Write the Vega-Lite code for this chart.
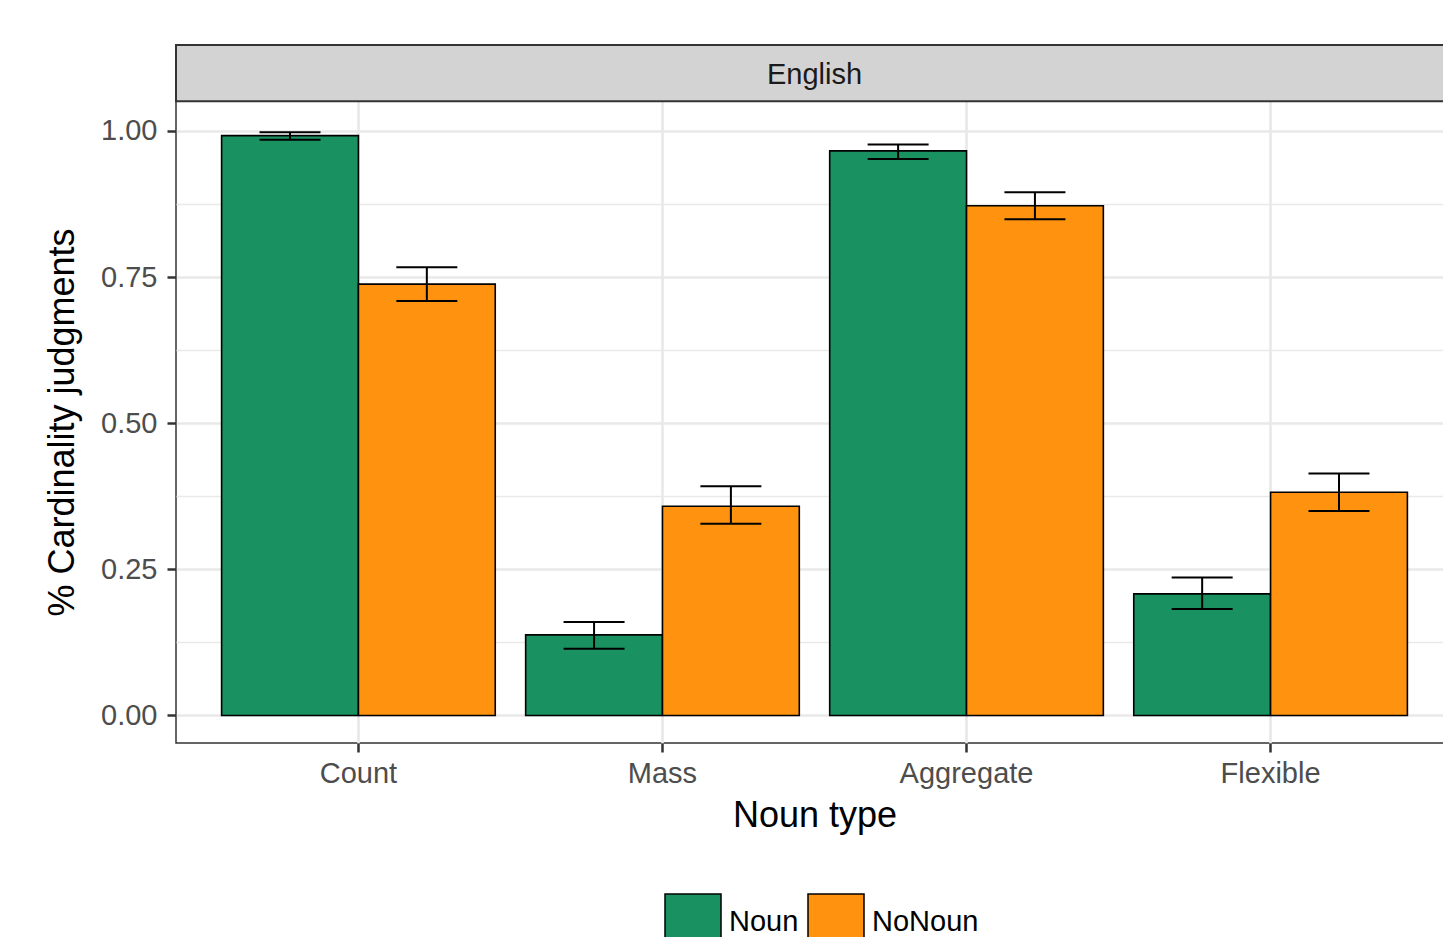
{
  "$schema": "https://vega.github.io/schema/vega-lite/v6.json",
  "width": 1277,
  "height": 698,
  "autosize": {"type": "none"},
  "padding": {"left": 176, "top": 45, "right": -10, "bottom": 194},
  "background": "white",
  "config": {
    "font": "Liberation Sans",
    "view": {"stroke": "#333333", "strokeWidth": 1.5},
    "axis": {
      "domain": false,
      "gridColor": "#e9e9e9",
      "gridWidth": 2.7,
      "tickColor": "#333333",
      "tickWidth": 2.5,
      "tickSize": 9,
      "labelFont": "Liberation Sans",
      "labelFontSize": 29,
      "labelColor": "#4d4d4d",
      "titleFont": "Liberation Sans",
      "titleFontSize": 36,
      "titleFontWeight": "normal",
      "titleColor": "#000000"
    }
  },
  "data": {
    "values": [
      {"noun_type": "Count", "condition": "Noun", "prop": 0.992, "lo": 0.985, "hi": 0.998},
      {"noun_type": "Count", "condition": "NoNoun", "prop": 0.738, "lo": 0.709, "hi": 0.767},
      {"noun_type": "Mass", "condition": "Noun", "prop": 0.138, "lo": 0.114, "hi": 0.160},
      {"noun_type": "Mass", "condition": "NoNoun", "prop": 0.358, "lo": 0.328, "hi": 0.392},
      {"noun_type": "Aggregate", "condition": "Noun", "prop": 0.966, "lo": 0.952, "hi": 0.977},
      {"noun_type": "Aggregate", "condition": "NoNoun", "prop": 0.872, "lo": 0.849, "hi": 0.895},
      {"noun_type": "Flexible", "condition": "Noun", "prop": 0.208, "lo": 0.182, "hi": 0.236},
      {"noun_type": "Flexible", "condition": "NoNoun", "prop": 0.382, "lo": 0.350, "hi": 0.414}
    ]
  },
  "layer": [
    {
      "mark": {"type": "bar", "stroke": "black", "strokeWidth": 1.6},
      "encoding": {
        "x": {
          "field": "noun_type", "type": "nominal", "title": "Noun type",
          "sort": ["Count", "Mass", "Aggregate", "Flexible"],
          "scale": {"paddingInner": 0.1, "paddingOuter": 0.15},
          "axis": {"labelAngle": 0, "bandPosition": 0.5, "grid": true, "labelPadding": 7, "titlePadding": 10}
        },
        "xOffset": {"field": "condition", "type": "nominal", "sort": ["Noun", "NoNoun"]},
        "y": {
          "field": "prop", "type": "quantitative", "title": "% Cardinality judgments",
          "scale": {"domain": [-0.04705, 1.14713], "nice": false, "zero": true},
          "axis": {"values": [0, 0.25, 0.5, 0.75, 1], "format": ".2f", "grid": true, "labelPadding": 10, "titlePadding": 19, "titleY": 377}
        },
        "color": {
          "field": "condition", "type": "nominal", "sort": ["Noun", "NoNoun"],
          "scale": {"domain": ["Noun", "NoNoun"], "range": ["#1a9160", "#ff930f"]},
          "legend": {
            "title": null, "orient": "none", "legendX": 488, "legendY": 848,
            "direction": "horizontal", "symbolType": "square", "symbolSize": 3136,
            "symbolStrokeColor": "black", "symbolStrokeWidth": 1.5,
            "labelFontSize": 29, "labelColor": "#000000", "labelOffset": 7,
            "columnPadding": 6, "padding": 0
          }
        }
      }
    },
    {
      "mark": {"type": "rule", "color": "black", "strokeWidth": 2},
      "encoding": {
        "x": {"field": "noun_type", "type": "nominal", "title": "Noun type", "sort": ["Count", "Mass", "Aggregate", "Flexible"]},
        "xOffset": {"field": "condition", "type": "nominal", "sort": ["Noun", "NoNoun"]},
        "y": {"field": "lo", "type": "quantitative", "axis": null},
        "y2": {"field": "hi"}
      }
    },
    {
      "mark": {"type": "tick", "color": "black", "size": 61, "thickness": 2, "opacity": 1},
      "encoding": {
        "x": {"field": "noun_type", "type": "nominal", "title": "Noun type", "sort": ["Count", "Mass", "Aggregate", "Flexible"]},
        "xOffset": {"field": "condition", "type": "nominal", "sort": ["Noun", "NoNoun"]},
        "y": {"field": "lo", "type": "quantitative", "axis": null}
      }
    },
    {
      "mark": {"type": "tick", "color": "black", "size": 61, "thickness": 2, "opacity": 1},
      "encoding": {
        "x": {"field": "noun_type", "type": "nominal", "title": "Noun type", "sort": ["Count", "Mass", "Aggregate", "Flexible"]},
        "xOffset": {"field": "condition", "type": "nominal", "sort": ["Noun", "NoNoun"]},
        "y": {
          "field": "hi", "type": "quantitative",
          "axis": {"orient": "right", "title": null, "values": [0.125, 0.375, 0.625, 0.875], "grid": true, "gridWidth": 1.4, "labels": false, "ticks": false, "domain": false}
        }
      }
    },
    {
      "data": {"values": [{"panel": "English"}]},
      "mark": {"type": "rect", "fill": "#d3d3d3", "stroke": "#333333", "strokeWidth": 2},
      "encoding": {
        "y": {"datum": 1.0510, "type": "quantitative", "axis": null},
        "y2": {"datum": 1.14713}
      }
    },
    {
      "data": {"values": [{"panel": "English"}]},
      "mark": {"type": "text", "fontSize": 29, "color": "#1a1a1a", "baseline": "middle", "align": "center"},
      "encoding": {
        "text": {"field": "panel", "type": "nominal"},
        "y": {"datum": 1.0955, "type": "quantitative", "axis": null}
      }
    }
  ],
  "resolve": {"axis": {"y": "independent"}}
}
